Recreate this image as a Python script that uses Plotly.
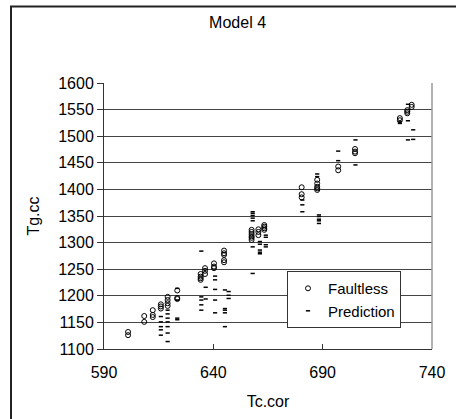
import plotly.graph_objects as go

# Faultless (open circles)
faultless_x = [601.0, 601.0,
               608.4, 608.4,
               612.3, 612.3, 612.3,
               616.0, 616.0, 616.0,
               619.1, 619.1, 619.1, 619.1,
               623.5, 623.5, 623.5,
               634.2, 634.2, 634.2, 634.2,
               636.2, 636.2, 636.2,
               640.3, 640.3, 640.3,
               644.9, 644.9, 644.9, 644.9, 644.9,
               657.5, 657.5, 657.5, 657.5, 657.5, 657.5,
               660.6, 660.6, 660.6,
               663.3, 663.3, 663.3, 663.3,
               680.4, 680.4, 680.4,
               687.5, 687.5, 687.5, 687.5, 687.5,
               697.1, 697.1,
               704.8, 704.8, 704.8,
               725.3, 725.3,
               728.7, 728.7, 728.7,
               730.7, 730.7]
faultless_y = [1126, 1132,
               1151, 1162,
               1160, 1164, 1173,
               1176, 1180, 1184,
               1181, 1186, 1192, 1198,
               1194, 1196, 1210,
               1230, 1233, 1236, 1241,
               1241, 1247, 1252,
               1252, 1255, 1261,
               1263, 1267, 1277, 1280, 1285,
               1305, 1309, 1312, 1316, 1320, 1324,
               1314, 1320, 1325,
               1324, 1327, 1330, 1333,
               1385, 1391, 1404,
               1399, 1402, 1405, 1411, 1418,
               1436, 1443,
               1468, 1471, 1476,
               1530, 1534,
               1543, 1546, 1549,
               1555, 1559]

# Prediction (small dashes)
prediction_x = [616.0, 616.0, 616.0, 616.0, 616.0,
                619.1, 619.1, 619.1, 619.1, 619.1, 619.1, 619.1,
                623.5, 623.5, 623.5, 623.5,
                634.5, 634.5, 634.5, 634.5, 634.5,
                636.5, 636.5,
                640.8, 640.8, 640.8, 640.8, 640.8,
                645.3, 645.3, 645.3, 645.3, 645.3,
                647.0, 647.0, 647.0,
                658.0, 658.0, 658.0, 658.0, 658.0, 658.0, 658.0,
                661.3, 661.3, 661.3, 661.3, 661.3,
                664.0, 664.0, 664.0, 664.0,
                680.7, 680.7, 680.7,
                688.3, 688.3, 688.3, 688.3, 688.3,
                687.5, 687.5,
                697.1, 697.1,
                705.0, 705.0,
                725.3, 725.3,
                729.0, 729.0, 729.0,
                731.4, 731.4]
prediction_y = [1161, 1151, 1142, 1136, 1126,
                1173, 1166, 1158, 1151, 1142, 1130, 1114,
                1214, 1192, 1158, 1155,
                1284, 1198, 1192, 1183, 1173,
                1216, 1194,
                1237, 1230, 1212, 1192, 1168,
                1211, 1176, 1173, 1168, 1142,
                1208, 1201, 1195,
                1358, 1355, 1351, 1346, 1341, 1292, 1242,
                1302, 1297, 1286, 1282, 1279,
                1314, 1310, 1296, 1292,
                1380, 1371, 1358,
                1352, 1349, 1344, 1341, 1336,
                1429, 1424,
                1472, 1454,
                1493, 1446,
                1527, 1524,
                1560, 1529, 1493,
                1512, 1494]

x_ticks = [590, 640, 690, 740]
y_ticks = [1100, 1150, 1200, 1250, 1300, 1350, 1400, 1450, 1500, 1550, 1600]

FONT = "Arial, 'Liberation Sans', sans-serif"

fig = go.Figure()
fig.add_trace(go.Scatter(
    x=faultless_x, y=faultless_y, mode="markers", name="Faultless",
    marker=dict(symbol="circle-open", size=5, color="black", line=dict(width=1, color="black")),
))
fig.add_trace(go.Scatter(
    x=prediction_x, y=prediction_y, mode="markers", name="Prediction",
    marker=dict(symbol="line-ew", size=3, color="black", line=dict(width=1.5, color="black")),
))

fig.update_layout(
    width=456, height=419,
    margin=dict(l=104, r=24, t=83, b=70),
    paper_bgcolor="white", plot_bgcolor="white",
    font=dict(family=FONT, size=16, color="black"),
    title=dict(text="Model 4", x=0.521, xref="container", xanchor="center",
               y=1 - 22 / 419, yref="container", yanchor="middle",
               font=dict(family=FONT, size=16, color="black")),
    showlegend=True,
    legend=dict(x=(287 - 104) / 328, y=0.293, xanchor="left", yanchor="top",
                bgcolor="white", bordercolor="#333", borderwidth=1,
                font=dict(family=FONT, size=15, color="black")),
    shapes=[
        dict(type="line", xref="paper", yref="paper", x0=1, x1=1, y0=0, y1=1,
             line=dict(color="#999", width=1.5)),
        dict(type="rect", xref="paper", yref="paper",
             x0=(11 - 104) / 328, x1=(475 - 104) / 328,
             y0=(349 - 440) / 266, y1=(349 - 6.5) / 266,
             line=dict(color="#222", width=2), layer="below"),
    ],
)
fig.update_xaxes(
    range=[590, 740], tickvals=x_ticks, showgrid=False, zeroline=False,
    showline=True, linecolor="#333", linewidth=1,
    ticks="inside", ticklen=5, tickcolor="#333", ticklabelstandoff=9,
    title=dict(text="Tc.cor", font=dict(family=FONT, size=16, color="black"), standoff=15),
)
fig.update_yaxes(
    range=[1100, 1600], tickvals=y_ticks, showgrid=True, gridcolor="#444", gridwidth=1,
    zeroline=False, showline=True, linecolor="#333", linewidth=1,
    ticks="outside", ticklen=6, tickcolor="#333",
    title=dict(text="Tg.cc", font=dict(family=FONT, size=16, color="black"), standoff=14),
)

fig.write_html("out.html")
